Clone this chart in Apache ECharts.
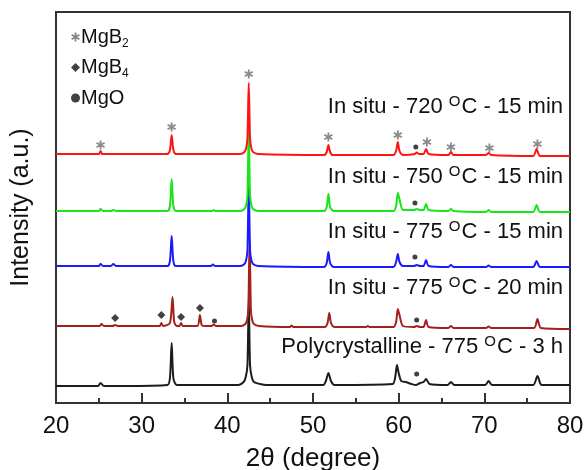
<!DOCTYPE html>
<html>
<head>
<meta charset="utf-8">
<script src="https://cdn.jsdelivr.net/npm/echarts@6/dist/echarts.min.js"></script>
<style>
  html, body { margin: 0; padding: 0; background: #fff; }
  #main { width: 584px; height: 470px; }
</style>
</head>
<body>
<div id="main"></div>
<script>
// x ticks
const xTicks = [20, 30, 40, 50, 60, 70, 80];

// patterns, [2theta, intensity (a.u., already offset)]
const redPts = [[20,249],[25.0,249],[25.2,252],[25.4,249],[33.0,249],[33.3,253],[33.5,268],[33.7,253],[34.0,249],
  [41.5,249],[42.0,251],[42.2,255],[42.35,265],[42.5,320],[42.65,265],[42.8,255],[43.0,251],[43.6,249],
  [51.3,248],[51.6,251],[51.8,258],[52.0,251],[52.3,248],[59.4,248],[59.7,252],[59.9,261],[60.1,252],[60.5,248],
  [61.9,249],[62.1,250.5],[62.4,249],[62.9,249],[63.2,254],[63.5,249],[65.8,248],[66.1,251],[66.4,248],
  [70.2,248],[70.5,250],[70.8,248],[75.7,247],[76.1,254],[76.5,247],[80,247]];
const greenPts = [[20,192],[25.0,192],[25.2,194],[25.5,192],[26.4,192],[26.7,193],[27.0,192],[33.0,192],[33.3,197],
  [33.5,224],[33.7,197],[34.0,192],[38.2,192],[38.4,193],[38.6,192],
  [41.5,192],[42.0,194],[42.2,198],[42.35,208],[42.5,273],[42.65,208],[42.8,198],[43.0,194],[43.6,192],
  [51.3,192],[51.6,196],[51.8,209],[52.0,196],[52.4,192],[59.4,192],[59.7,197],[59.9,210],[60.1,204],[60.5,193],
  [61.8,193],[62.1,194],[62.5,193],[62.9,193],[63.2,199],[63.5,193],[65.8,192],[66.1,194],[66.4,192],
  [70.2,191],[70.5,193],[70.8,191],[75.7,191],[76.1,198],[76.5,191],[80,191]];
const bluePts = [[20,137],[25.0,137],[25.2,139],[25.5,137],[26.4,137],[26.7,139],[27.0,137],[33.0,137],[33.3,142],
  [33.5,167],[33.7,142],[34.0,137],[38.1,137],[38.3,138.5],[38.6,137],
  [41.5,137],[42.0,139],[42.2,143],[42.35,153],[42.5,218],[42.65,153],[42.8,143],[43.0,139],[43.6,137],
  [51.3,136],[51.6,140],[51.8,151],[52.0,140],[52.4,136],[59.4,136],[59.7,141],[59.9,149],[60.1,141],[60.5,137],
  [61.8,137],[62.1,138],[62.5,137],[62.9,137],[63.2,143],[63.5,137],[65.8,136],[66.1,138],[66.4,136],
  [70.2,136],[70.5,137.5],[70.8,136],[75.7,136],[76.1,142],[76.5,136],[80,136]];
const darkPts = [[20,77],[25.1,77],[25.3,79],[25.6,77],[26.6,77],[26.9,78],[27.2,77],[32.1,77],[32.3,80],[32.5,77],
  [33.3,80],[33.6,106],[33.8,81],[34.1,77],[34.4,77],[34.6,80],[34.8,77],[36.5,77],[36.8,88],[37.0,78],[37.3,77],
  [38.2,77],[38.4,78.5],[38.7,77],
  [41.6,77],[42.1,79],[42.3,83],[42.45,93],[42.6,163],[42.75,93],[42.9,83],[43.1,79],[43.7,77],
  [47.3,76],[47.5,77.5],[47.7,76],[51.4,76],[51.7,80],[51.9,90],[52.1,80],[52.5,76],[56.2,76],[56.4,77],[56.6,76],
  [59.4,76],[59.7,81],[59.9,94],[60.1,88],[60.5,77],[61.8,76],[62.1,77],[62.5,76],[62.9,76],[63.2,83],[63.5,76],
  [65.8,75],[66.1,77],[66.4,75],[70.2,75],[70.5,76.5],[70.8,75],[75.8,75],[76.2,84],[76.6,75],[80,74]];
const blackPts = [[20,17],[24.9,17],[25.2,20],[25.6,17],[28.0,17],[33.0,18],[33.3,25],[33.5,60],[33.7,25],[34.1,18],
  [41.3,18],[41.9,21],[42.15,26],[42.35,38],[42.5,103],[42.65,38],[42.85,26],[43.1,21],[43.8,19],[44.6,18],
  [51.2,18],[51.5,22],[51.8,30],[52.1,22],[52.5,18],[59.3,19],[59.6,26],[59.8,38],[60.0,30],[60.3,22],[60.8,21],
  [61.5,19],[62.0,18],[62.5,20],[62.9,21],[63.2,24],[63.6,19],[65.7,18],[66.1,21],[66.5,18],[70.1,18],[70.5,22],
  [70.9,18],[75.7,18],[76.2,27],[76.7,18],[80,18]];

// phase markers
const mgb2Marks = [[25.2,258],[33.5,276],[42.5,329],[51.8,266],[59.9,268],[63.3,261],[66.1,256],[70.6,255],[76.2,259]];
const mgb4Marks = [[26.9,85],[32.3,88],[34.6,86],[36.8,95]];
const mgoMarks = [[38.5,82],[62.0,256],[61.9,200],[61.9,146],[62.1,83],[62.1,29]];

const sampleTemps = ['720', '750', '775', '775', '775'];
const sampleTimes = ['15 min', '15 min', '15 min', '20 min', '3 h'];
const samplePrefix = ['In situ', 'In situ', 'In situ', 'In situ', 'Polycrystalline'];

const lineColors = ['#ff1414', '#19e619', '#1a1aff', '#a3201e', '#1c1c1c'];
const labelY = [108, 178, 233, 289, 348];

const starPath = 'path://M-1,-5L1,-5L1,5L-1,5Z M-4.83,-1.63L-3.83,-3.37L4.83,1.63L3.83,3.37Z M-3.83,3.37L-4.83,1.63L3.83,-3.37L4.83,-1.63Z';
const fontFam = 'Liberation Sans, Arial';

const myChart = echarts.init(document.getElementById('main'));

function lineSeries(name, data, color) {
    return {
        name: name, type: 'line', data: data, symbol: 'none', smooth: 0.25,
        lineStyle: {color: color, width: 2}, silent: true
    };
}

const labels = sampleTemps.map(function (t, i) {
    return {
        type: 'text', right: 21, top: labelY[i] - 14,
        style: {
            text: '{a|' + samplePrefix[i] + ' - ' + t + ' }{s|O}{a|C - ' + sampleTimes[i] + '}',
            rich: {
                a: {fontSize: 22, fontFamily: fontFam, fill: '#111'},
                s: {fontSize: 15, fontFamily: fontFam, fill: '#111', padding: [0, 1, 11, 0]}
            }
        }
    };
});

myChart.setOption({
    animation: false,
    backgroundColor: '#fff',
    grid: {left: 56, right: 14, top: 12, bottom: 67, outerBoundsMode: 'none', containLabel: false,
        show: true, borderColor: '#333', borderWidth: 2, backgroundColor: 'transparent'},
    legend: {
        left: 66, top: 22, orient: 'vertical', itemGap: 8, itemWidth: 9, itemHeight: 9,
        data: [
            {name: 'MgB2', icon: starPath, itemStyle: {color: '#666'}},
            {name: 'MgB4', icon: 'diamond', itemStyle: {color: '#111'}},
            {name: 'MgO', icon: 'circle', itemStyle: {color: '#111'}}
        ],
        formatter: function (n) {
            if (n === 'MgO') return '{a|MgO}';
            return '{a|MgB}{s|' + n.slice(3) + '}';
        },
        textStyle: {
            padding: [0, 0, 0, -4],
            rich: {
                a: {fontSize: 20, fontFamily: fontFam, color: '#111'},
                s: {fontSize: 12, fontFamily: fontFam, color: '#111', padding: [13, 0, 0, 0]}
            }
        }
    },
    xAxis: {
        type: 'value', min: 20, max: 80, interval: 10,
        name: '2θ (degree)', nameLocation: 'middle', nameGap: 43,
        nameTextStyle: {fontSize: 26, fontFamily: fontFam, color: '#111'},
        axisLine: {lineStyle: {color: '#333', width: 2}},
        axisTick: {inside: true, length: 10, lineStyle: {color: '#333', width: 2}},
        minorTick: {show: true, splitNumber: 2, length: 5, lineStyle: {color: '#333', width: 2}},
        splitLine: {show: false},
        axisLabel: {fontSize: 24, fontFamily: fontFam, color: '#111', margin: 11}
    },
    yAxis: {
        type: 'value', min: 0, max: 391,
        name: 'Intensity (a.u.)', nameLocation: 'middle', nameGap: 22,
        nameTextStyle: {fontSize: 25, fontFamily: fontFam, color: '#111'},
        axisLine: {show: true, lineStyle: {color: '#333', width: 2}},
        axisTick: {show: false}, axisLabel: {show: false}, splitLine: {show: false}
    },
    graphic: labels,
    series: [
        lineSeries('black', blackPts, lineColors[4]),
        lineSeries('dark', darkPts, lineColors[3]),
        lineSeries('blue', bluePts, lineColors[2]),
        lineSeries('green', greenPts, lineColors[1]),
        lineSeries('red', redPts, lineColors[0]),
        {name: 'MgB2', type: 'scatter', data: mgb2Marks, symbol: starPath, symbolSize: 9, itemStyle: {color: '#6e6e6e'}},
        {name: 'MgB4', type: 'scatter', data: mgb4Marks, symbol: 'diamond', symbolSize: 8, itemStyle: {color: '#111'}},
        {name: 'MgO', type: 'scatter', data: mgoMarks, symbol: 'circle', symbolSize: 5, itemStyle: {color: '#111'}}
    ]
});
</script>
</body>
</html>
